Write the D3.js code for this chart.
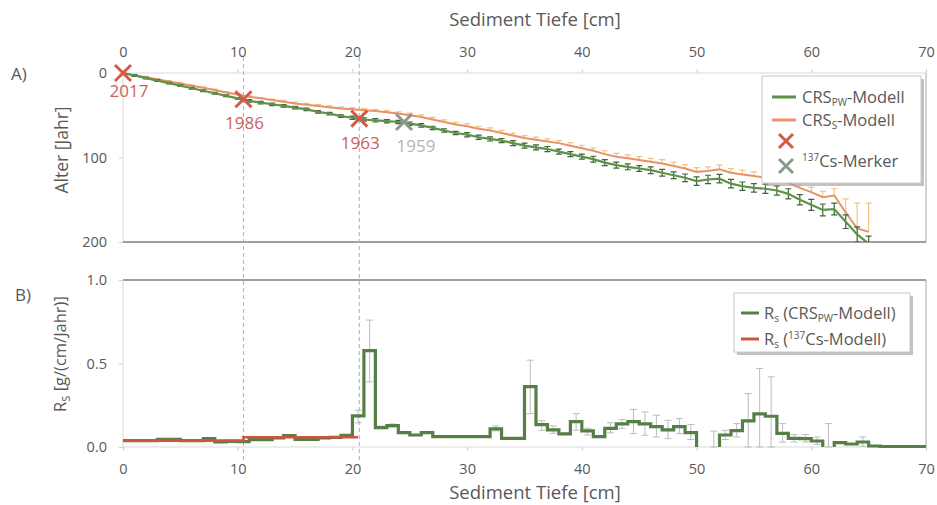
<!DOCTYPE html>
<html>
<head>
<meta charset="utf-8">
<script src="https://cdn.jsdelivr.net/npm/d3@7"></script>
<style>
  body { margin: 0; background: #fff; }
  svg text { font-family: "Open Sans", "Noto Sans", sans-serif; fill: #595959; }
</style>
</head>
<body>
<svg width="937" height="505"></svg>
<script>
'use strict';

// --- panel A: age model (age in years per depth cm)
var depth = d3.range(0, 66);
var agePW = [0, 3, 6, 9, 12, 15, 18, 21, 24, 27,
	30, 33, 35, 37, 39, 41, 43, 46, 48, 51,
	53, 55, 56, 57, 58, 60, 62, 65, 68, 71,
	73, 76, 78, 80, 83, 86, 88, 90, 93, 96,
	99, 102, 106, 109, 111, 113, 115, 118, 121, 124,
	128, 126, 125, 131, 134, 136, 137, 139, 143, 150,
	156, 162, 161, 176, 191, 202];
var errPW = [0, 1, 1, 1, 1, 1, 1, 1, 1, 1,
	1, 1.5, 1.5, 1.5, 1.5, 1.5, 1.5, 1.5, 1.5, 1.5,
	2, 2, 2, 2, 2, 2, 2, 2, 2, 2,
	2.5, 2.5, 2.5, 2.5, 3, 3, 3, 3, 3, 3,
	3, 3.5, 3.5, 3.5, 3.5, 3.5, 4, 4, 4, 4.5,
	5, 5, 5, 5, 5, 5, 5.5, 5.5, 6, 6,
	6.5, 7, 7, 8, 9, 9];
var ageS = [0, 2.5, 5, 7.5, 10, 12.5, 15, 17.5, 20, 23,
	25.5, 28, 30, 32, 34, 36, 37.5, 39, 40.5, 42,
	43, 44, 45, 46.5, 48, 50, 52, 55, 58, 61,
	63, 66, 68, 71, 74, 77, 79, 81, 83, 86,
	89, 92, 96, 99, 101, 103, 105, 107, 110, 113,
	117, 116, 114, 118, 120, 122, 124, 126, 130, 136,
	141, 147, 145, 165, 184, 188];
var errS = [0, 1, 1, 1, 1, 1, 1, 1, 1, 1,
	1, 1, 1, 1, 1.5, 1.5, 1.5, 1.5, 1.5, 1.5,
	2, 2, 2, 2, 2, 2.5, 2.5, 2.5, 2.5, 2.5,
	3, 3, 3, 3, 3, 3, 3, 3, 3, 3.5,
	3.5, 3.5, 4, 4, 4, 4, 4, 4.5, 4.5, 4.5,
	5, 5, 5, 5, 5, 5, 5, 5, 5.5, 6,
	6, 7, 8, 16, 30, 34];

// 137Cs markers
var markerYear = ["2017", "1986", "1963", "1959"];
var markerDepth = [0, 10.5, 20.6, 24.5];
var markerAge = [0, 31, 54, 58];
var markerKind = ["cs", "cs", "cs", "pw"];

// --- panel B: sedimentation rate per 1 cm bin (null = no value)
var rsPW = [0.038, 0.038, 0.038, 0.046, 0.046, 0.038, 0.038, 0.05, 0.03, 0.034,
	0.032, 0.044, 0.044, 0.055, 0.068, 0.045, 0.045, 0.055, 0.058, 0.07,
	0.186, 0.577, 0.116, 0.128, 0.086, 0.072, 0.086, 0.062, 0.062, 0.062,
	0.062, 0.062, 0.108, 0.052, 0.052, 0.361, 0.134, 0.102, 0.078, 0.152,
	0.096, 0.062, 0.112, 0.138, 0.152, 0.138, 0.122, 0.102, 0.122, 0.086,
	null, null, 0.072, 0.098, 0.156, 0.198, 0.184, 0.082, 0.052, 0.05,
	0.036, null, 0.026, 0.018, 0.03, 0.006, 0.003, 0.003, 0.003, 0.003];
var csEdges = [0, 10.5, 20.5];
var rsCs = [0.038, 0.058];

var rsErrDepth = [20.5, 21.5, 22.5, 23.5, 32.5, 35.5, 36.5, 37.5, 39.5, 40.5,
	42.5, 43.5, 44.5, 45.5, 46.5, 47.5, 48.5, 49.5, 51.5, 52.5,
	53.5, 54.5, 55.5, 56.5, 57.5, 58.5, 59.5, 60.5, 61.5, 64.5];
var rsErrHigh = [0.22, 0.76, 0.125, 0.138, 0.126, 0.52, 0.157, 0.126, 0.2, 0.112,
	0.145, 0.165, 0.225, 0.21, 0.19, 0.16, 0.17, 0.135, 0.095, 0.1,
	0.14, 0.32, 0.47, 0.42, 0.14, 0.075, 0.075, 0.06, 0.14, 0.06];
var rsErrLow = [0.145, 0.39, 0.11, 0.12, 0.096, 0.2, 0.1, 0.082, 0.1, 0.072,
	0.085, 0.11, 0.08, 0.07, 0.06, 0.05, 0.08, 0.045, 0, 0.045,
	0.06, 0, 0, 0, 0.03, 0.03, 0.03, 0.015, 0, 0.005];

var xTicks = [0, 10, 20, 30, 40, 50, 60, 70];
var ageTicks = [0, 100, 200];
var rsTicks = [0, 0.5, 1.0];
var dashedDepth = [10.5, 20.6];

var green = "#5f9148", greenDark = "#3f6435", orange = "#e8926a", orangeErr = "#f2c47e",
	red = "#d45a48", grey = "#8b9b8b";

var svg = d3.select("svg");

var x = d3.scaleLinear().domain([0, 70]).range([123, 926]),
	yA = d3.scaleLinear().domain([0, 200]).range([73, 242]),
	yB = d3.scaleLinear().domain([0, 1]).range([447, 280]);

svg.append("defs").append("clipPath").attr("id", "clipA")
	.append("rect").attr("x", 123).attr("y", 60).attr("width", 803).attr("height", 182);

// frames
function hline(y, x0, x1, col, w) {
	svg.append("line").attr("x1", x0).attr("x2", x1).attr("y1", y).attr("y2", y)
		.attr("stroke", col).attr("stroke-width", w);
}
function vline(xx, y0, y1, col, w) {
	svg.append("line").attr("x1", xx).attr("x2", xx).attr("y1", y0).attr("y2", y1)
		.attr("stroke", col).attr("stroke-width", w);
}
hline(yA(0), 123, 926, "#d9d9d9", 1);
vline(123, yA(0), yA(200), "#d9d9d9", 1);
vline(926, yA(0), yA(200), "#a6a6a6", 1);
hline(yA(200), 123, 926, "#7f7f7f", 1.5);

hline(yB(1), 123, 926, "#7f7f7f", 1.5);
vline(123, yB(1), yB(0), "#d9d9d9", 1);
vline(926, yB(1), yB(0), "#a6a6a6", 1);
hline(yB(0), 123, 926, "#d9d9d9", 1);

// axes
var axTop = svg.append("g").attr("transform", "translate(0," + yA(0) + ")")
	.call(d3.axisTop(x).tickValues(xTicks).tickFormat(d3.format("d")).tickSize(4).tickPadding(12));
var axBot = svg.append("g").attr("transform", "translate(0," + yB(0) + ")")
	.call(d3.axisBottom(x).tickValues(xTicks).tickFormat(d3.format("d")).tickSize(4).tickPadding(13));
var axA = svg.append("g").attr("transform", "translate(123,0)")
	.call(d3.axisLeft(yA).tickValues(ageTicks).tickSize(4).tickPadding(12));
var axB = svg.append("g").attr("transform", "translate(123,0)")
	.call(d3.axisLeft(yB).tickValues(rsTicks).tickFormat(d3.format(".1f")).tickSize(4).tickPadding(12));
[axTop, axBot, axA, axB].forEach(function(a) {
	a.select(".domain").remove();
	a.selectAll(".tick line").attr("stroke", "#d0d0d0");
	a.selectAll(".tick text").style("font-size", "14.5px").style("font-family", null).attr("fill", "#595959");
});

// dashed 137Cs lines through both panels
svg.selectAll(".dash").data(dashedDepth).enter().append("line")
	.attr("class", "dash")
	.attr("x1", function(d) { return x(d); }).attr("x2", function(d) { return x(d); })
	.attr("y1", 57).attr("y2", 461)
	.attr("stroke", "#aab0bb").attr("stroke-width", 1).attr("stroke-dasharray", "4,3");

// titles
svg.append("text").attr("x", 535).attr("y", 26).attr("text-anchor", "middle")
	.style("font-size", "18.5px").text("Sediment Tiefe [cm]");
svg.append("text").attr("x", 535).attr("y", 499).attr("text-anchor", "middle")
	.style("font-size", "18.5px").text("Sediment Tiefe [cm]");
svg.append("text").attr("x", 11).attr("y", 80).style("font-size", "17px").text("A)");
svg.append("text").attr("x", 15).attr("y", 301).style("font-size", "17px").text("B)");
svg.append("text").attr("transform", "translate(68,150) rotate(-90)").attr("text-anchor", "middle")
	.style("font-size", "17.5px").text("Alter [Jahr]");
var tB = svg.append("text").attr("transform", "translate(66,354) rotate(-90)").attr("text-anchor", "middle")
	.style("font-size", "16.5px");
tB.append("tspan").text("R");
tB.append("tspan").attr("baseline-shift", "-4").style("font-size", "11px").text("S");
tB.append("tspan").text(" [g/(cm/Jahr)]");

// --- panel A lines + error bars
var gA = svg.append("g").attr("clip-path", "url(#clipA)");

// orange bars point towards younger ages (upwards)
gA.selectAll(null).data(depth).enter().append("path")
	.attr("d", function(d, i) {
		var y0 = yA(ageS[i]), y1 = yA(ageS[i] - errS[i]), xx = x(d);
		return "M" + xx + "," + y0 + "V" + y1 + "M" + (xx - 3) + "," + y1 + "H" + (xx + 3);
	})
	.attr("fill", "none").attr("stroke", orangeErr).attr("stroke-width", 1.2);

var line = d3.line()
	.x(function(d, i) { return x(depth[i]); });

gA.append("path").datum(ageS)
	.attr("d", line.y(function(d) { return yA(d); }))
	.attr("fill", "none").attr("stroke", orange).attr("stroke-width", 2);

gA.selectAll(null).data(depth).enter().append("path")
	.attr("d", function(d, i) {
		var y0 = yA(agePW[i] - errPW[i]), y1 = yA(agePW[i] + errPW[i]), xx = x(d);
		if (errPW[i] == 0) return null;
		return "M" + xx + "," + y0 + "V" + y1 + "M" + (xx - 3) + "," + y1 + "H" + (xx + 3) +
			"M" + (xx - 3) + "," + y0 + "H" + (xx + 3);
	})
	.attr("fill", "none").attr("stroke", greenDark).attr("stroke-width", 1.2);
gA.append("path").datum(agePW)
	.attr("d", line.y(function(d) { return yA(d); }))
	.attr("fill", "none").attr("stroke", green).attr("stroke-width", 2.2);

// markers
function cross(g, cx, cy, s, col) {
	g.append("path")
		.attr("d", "M" + (cx - s) + "," + (cy - s) + "L" + (cx + s) + "," + (cy + s) +
			"M" + (cx - s) + "," + (cy + s) + "L" + (cx + s) + "," + (cy - s))
		.attr("stroke", col).attr("stroke-width", 3).attr("fill", "none");
}
markerYear.forEach(function(yr, i) {
	var col = markerKind[i] == "cs" ? red : grey;
	cross(svg, x(markerDepth[i]), yA(markerAge[i]), 8, col);
	svg.append("text")
		.attr("x", x(markerDepth[i]) + (i == 0 ? 6 : (markerKind[i] == "cs" ? 1 : 12)))
		.attr("y", yA(markerAge[i]) + (i == 0 ? 24 : 30))
		.attr("text-anchor", "middle")
		.style("font-size", "17px")
		.style("fill", markerKind[i] == "cs" ? "#c8635a" : "#b5b5b5")
		.text(yr);
});

// --- panel B
svg.selectAll(".rserr").data(rsErrDepth).enter().append("path")
	.attr("class", "rserr")
	.attr("d", function(d, i) {
		var xx = x(d), y0 = yB(rsErrLow[i]), y1 = yB(rsErrHigh[i]);
		return "M" + xx + "," + y0 + "V" + y1 + "M" + (xx - 3.5) + "," + y1 + "H" + (xx + 3.5) +
			"M" + (xx - 3.5) + "," + y0 + "H" + (xx + 3.5);
	})
	.attr("fill", "none").attr("stroke", "#bdbdbd").attr("stroke-width", 1);

// build step points, drop to zero before gaps
function stepPoints(edges, vals) {
	var pts = [];
	vals.forEach(function(v, i) {
		if (v == null) { return; }
		var prev = i > 0 ? vals[i - 1] : undefined, next = vals[i + 1];
		if (prev === null) pts.push([edges[i], 0]);
		pts.push([edges[i], v]);
		pts.push([edges[i + 1], v]);
		if (next === null) { pts.push([edges[i + 1], 0]); pts.push(null); }
	});
	return pts;
}
var binEdges = d3.range(0, rsPW.length + 1);
var stepLine = d3.line()
	.defined(function(d) { return d != null; })
	.x(function(d) { return x(d[0]); })
	.y(function(d) { return yB(d[1]); });

svg.append("path").datum(stepPoints(binEdges, rsPW))
	.attr("d", stepLine)
	.attr("fill", "none").attr("stroke", "#557f46").attr("stroke-width", 3.2);
svg.append("path").datum(stepPoints(csEdges, rsCs))
	.attr("d", stepLine)
	.attr("fill", "none").attr("stroke", "#d0533c").attr("stroke-width", 2.6);

// --- legends
function legendBox(x0, y0, w, h) {
	svg.append("rect").attr("x", x0 + 3).attr("y", y0 + 3).attr("width", w).attr("height", h)
		.attr("fill", "#9a9a9a").attr("opacity", 0.6);
	svg.append("rect").attr("x", x0).attr("y", y0).attr("width", w).attr("height", h)
		.attr("fill", "#fff").attr("stroke", "#c8c8c8");
}
function legText(xx, yy, parts) {
	var t = svg.append("text").attr("x", xx).attr("y", yy).style("font-size", "16.5px");
	parts.forEach(function(p) {
		var s = t.append("tspan").text(p[0]);
		if (p[1] == "sub") s.attr("baseline-shift", "-3").style("font-size", "10px");
		if (p[1] == "sup") s.attr("baseline-shift", "6").style("font-size", "10px");
	});
	return t;
}

legendBox(762, 76, 159, 107);
hline(97, 772, 796, green, 3);
legText(802, 103, [["CRS"], ["PW", "sub"], ["-Modell"]]);
hline(120, 772, 796, orange, 3);
legText(802, 126, [["CRS"], ["S", "sub"], ["-Modell"]]);
cross(svg, 786, 141, 7, red);
cross(svg, 786, 166, 7, grey);
legText(802, 167, [["137", "sup"], ["Cs-Merker"]]);

legendBox(734, 293, 176, 59);
hline(313, 741, 759, "#557f46", 3);
legText(764, 319, [["R"], ["s", "sub"], [" (CRS"], ["PW", "sub"], ["-Modell)"]]);
hline(339, 741, 759, "#d0533c", 3);
legText(764, 345, [["R"], ["s", "sub"], [" ("], ["137", "sup"], ["Cs-Modell)"]]);
</script>
</body>
</html>
